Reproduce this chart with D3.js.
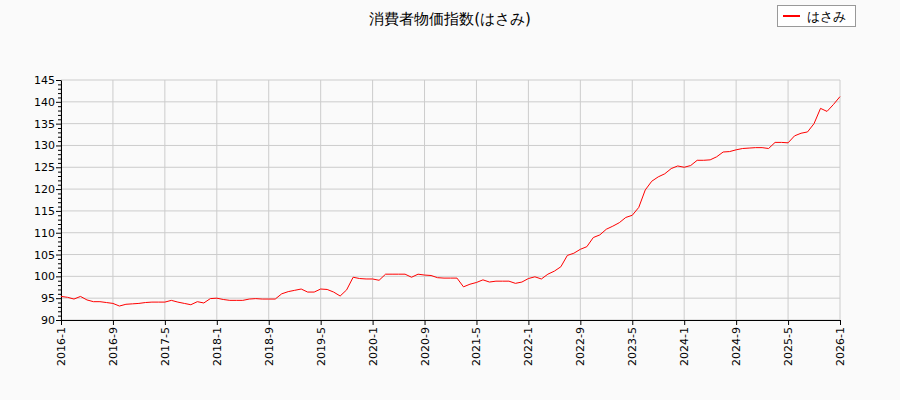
<!DOCTYPE html>
<html><head><meta charset="utf-8">
<script src="https://cdn.jsdelivr.net/npm/d3@7"></script>
<style>body{margin:0;background:#fafafa;font-family:"DejaVu Sans",sans-serif}</style>
</head><body><svg id="c" width="900" height="400"></svg>
<script>
const title = "消費者物価指数(はさみ)";
const seriesName = "はさみ";
const startYear = 2016;
const values = [
95.4,95.2,94.8,95.4,94.6,94.2,94.2,94.0,93.8,93.2,93.6,93.7,
93.8,94.0,94.1,94.1,94.1,94.5,94.1,93.8,93.5,94.2,93.9,94.9,
95.0,94.7,94.5,94.5,94.5,94.8,94.9,94.8,94.8,94.8,96.0,96.5,
96.8,97.1,96.4,96.4,97.1,97.0,96.4,95.5,96.9,99.8,99.5,99.4,
99.4,99.1,100.5,100.5,100.5,100.5,99.8,100.5,100.3,100.2,99.7,99.6,
99.6,99.6,97.6,98.2,98.6,99.2,98.7,98.9,98.9,98.9,98.4,98.7,
99.5,99.9,99.4,100.5,101.2,102.2,104.8,105.3,106.2,106.8,108.9,109.5,
110.8,111.5,112.3,113.5,114.0,115.8,119.8,121.8,122.8,123.5,124.7,125.3,
125.0,125.4,126.6,126.6,126.7,127.4,128.5,128.6,129.0,129.3,129.4,129.5,
129.5,129.3,130.7,130.7,130.6,132.2,132.8,133.1,135.0,138.5,137.8,139.4,
141.2];
const xTickLabels = ["2016-1","2016-9","2017-5","2018-1","2018-9","2019-5","2020-1","2020-9","2021-5","2022-1","2022-9","2023-5","2024-1","2024-9","2025-5","2026-1"];
const yTicks = [90,95,100,105,110,115,120,125,130,135,140,145];

const svg = d3.select("#c");
const m = {l:61,r:840,t:80,b:320};
const x = d3.scaleLinear().domain([0,values.length-1]).range([m.l,m.r]);
const y = d3.scaleLinear().domain([90,145]).range([m.b,m.t]);
const xTickIdx = xTickLabels.map(s=>{const [a,b]=s.split("-").map(Number);return (a-startYear)*12+b-1;});

const g = svg.append("g");
g.selectAll(".vg").data(xTickIdx).join("line").attr("x1",d=>x(d)).attr("x2",d=>x(d)).attr("y1",m.t).attr("y2",m.b).attr("stroke","#cccccc");
g.selectAll(".hg").data(yTicks).join("line").attr("x1",m.l).attr("x2",m.r).attr("y1",d=>y(d)).attr("y2",d=>y(d)).attr("stroke","#cccccc");

const ya = svg.append("g").attr("transform",`translate(${m.l},0)`)
  .call(d3.axisLeft(y).tickValues(d3.range(90,145.1,1)).tickSize(0).tickFormat(""));
ya.selectAll(".tick line").attr("x2",d=>d%5===0?-5:-3).attr("stroke","#000");
ya.select(".domain").attr("stroke","#000");
yTicks.forEach(v=>svg.append("text").attr("x",m.l-6).attr("y",y(v)+4).attr("text-anchor","end").attr("font-size",11).text(v));

const xa = svg.append("g").attr("transform",`translate(0,${m.b})`)
  .call(d3.axisBottom(x).tickValues(xTickIdx).tickSize(5).tickFormat(""));
xa.selectAll("line,path").attr("stroke","#000");
xTickIdx.forEach((d,i)=>svg.append("text").attr("transform",`translate(${x(d)+4},${m.b+7}) rotate(-90)`).attr("text-anchor","end").attr("font-size",11).text(xTickLabels[i]));

svg.append("path").datum(values).attr("fill","none").attr("stroke","#ff0000").attr("stroke-width",1)
  .attr("d",d3.line().x((d,i)=>x(i)).y(d=>y(d)));

svg.append("text").attr("x",450).attr("y",24).attr("text-anchor","middle").attr("font-size",15).text(title);
svg.append("rect").attr("x",777.5).attr("y",5.5).attr("width",78).attr("height",21).attr("fill","#fff").attr("stroke","#999");
svg.append("line").attr("x1",783).attr("x2",800).attr("y1",16).attr("y2",16).attr("stroke","#ff0000").attr("stroke-width",2);
svg.append("text").attr("x",807).attr("y",21).attr("font-size",13).text(seriesName);
</script></body></html>
